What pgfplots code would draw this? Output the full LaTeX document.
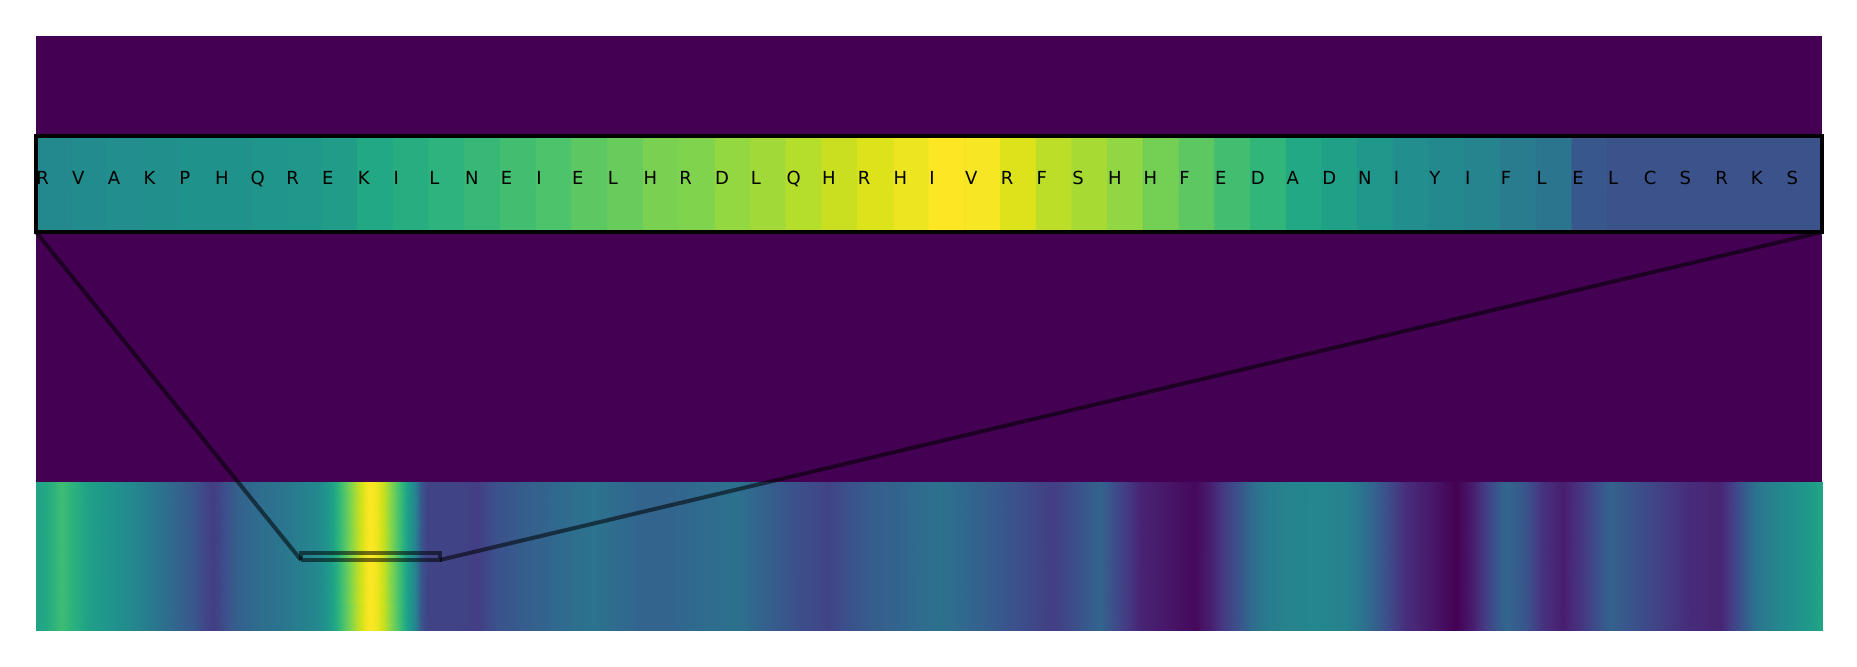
\documentclass[border=0pt]{standalone}
\usepackage{pgfplots}
\pgfplotsset{compat=1.18}
\usepackage{fontspec}
\setmainfont{DejaVu Sans}
\definecolor{vpurple}{HTML}{440154}
\begin{document}
\begin{tikzpicture}
\path[use as bounding box] (-18pt,-18.15pt) rectangle (910.5pt,315.35pt);
\begin{axis}[
  at={(0pt,0pt)}, anchor=south west,
  scale only axis, width=893pt, height=297.35pt,
  xmin=0, xmax=643, ymin=0, ymax=1,
  hide axis, clip=false,
  colormap/viridis, point meta min=0, point meta max=1,
]
\addplot[fill=vpurple, draw=none, mark=none] coordinates {(0,0) (643,0) (643,1) (0,1)};
\addplot[surf, shader=interp, point meta=explicit] table[meta=c] {
x y c
0.0 0 0.58
3.6 0 0.60
9.0 0 0.69
13.3 0 0.64
18.7 0 0.57
25.9 0 0.52
32.8 0 0.48
40.0 0 0.42
45.4 0 0.37
51.1 0 0.32
56.5 0 0.27
60.8 0 0.21
63.7 0 0.18
66.2 0 0.21
69.1 0 0.26
73.4 0 0.31
81.7 0 0.36
88.9 0 0.39
95.8 0 0.43
101.5 0 0.47
104.4 0 0.52
106.9 0 0.58
109.8 0 0.69
112.7 0 0.79
115.6 0 0.89
118.4 0 0.97
120.2 0 1.00
122.4 0 0.98
125.3 0 0.91
128.2 0 0.80
131.0 0 0.69
133.6 0 0.57
136.4 0 0.45
138.6 0 0.27
140.8 0 0.20
151.9 0 0.20
158.8 0 0.18
166.0 0 0.25
180.0 0 0.31
194.0 0 0.36
200.9 0 0.38
208.1 0 0.35
217.4 0 0.32
227.9 0 0.32
241.9 0 0.35
252.7 0 0.37
262.8 0 0.30
275.1 0 0.24
285.1 0 0.20
289.4 0 0.23
300.3 0 0.29
312.9 0 0.33
325.5 0 0.37
339.9 0 0.31
353.9 0 0.24
366.1 0 0.18
374.1 0 0.24
383.1 0 0.32
388.5 0 0.23
397.5 0 0.10
406.5 0 0.06
417.2 0 0.02
422.7 0 0.08
428.1 0 0.18
433.5 0 0.26
438.1 0 0.36
443.9 0 0.42
451.5 0 0.45
462.3 0 0.46
471.6 0 0.44
477.4 0 0.38
485.7 0 0.25
492.9 0 0.13
502.6 0 0.06
511.2 0 0.00
517.0 0 0.07
523.1 0 0.21
529.2 0 0.33
536.1 0 0.26
542.5 0 0.14
549.7 0 0.08
556.6 0 0.16
566.7 0 0.31
572.1 0 0.27
584.7 0 0.19
595.5 0 0.12
606.3 0 0.10
612.7 0 0.23
619.2 0 0.38
626.0 0 0.45
633.3 0 0.50
639.4 0 0.55
643.0 0 0.59

0.0 0.25 0.58
3.6 0.25 0.60
9.0 0.25 0.69
13.3 0.25 0.64
18.7 0.25 0.57
25.9 0.25 0.52
32.8 0.25 0.48
40.0 0.25 0.42
45.4 0.25 0.37
51.1 0.25 0.32
56.5 0.25 0.27
60.8 0.25 0.21
63.7 0.25 0.18
66.2 0.25 0.21
69.1 0.25 0.26
73.4 0.25 0.31
81.7 0.25 0.36
88.9 0.25 0.39
95.8 0.25 0.43
101.5 0.25 0.47
104.4 0.25 0.52
106.9 0.25 0.58
109.8 0.25 0.69
112.7 0.25 0.79
115.6 0.25 0.89
118.4 0.25 0.97
120.2 0.25 1.00
122.4 0.25 0.98
125.3 0.25 0.91
128.2 0.25 0.80
131.0 0.25 0.69
133.6 0.25 0.57
136.4 0.25 0.45
138.6 0.25 0.27
140.8 0.25 0.20
151.9 0.25 0.20
158.8 0.25 0.18
166.0 0.25 0.25
180.0 0.25 0.31
194.0 0.25 0.36
200.9 0.25 0.38
208.1 0.25 0.35
217.4 0.25 0.32
227.9 0.25 0.32
241.9 0.25 0.35
252.7 0.25 0.37
262.8 0.25 0.30
275.1 0.25 0.24
285.1 0.25 0.20
289.4 0.25 0.23
300.3 0.25 0.29
312.9 0.25 0.33
325.5 0.25 0.37
339.9 0.25 0.31
353.9 0.25 0.24
366.1 0.25 0.18
374.1 0.25 0.24
383.1 0.25 0.32
388.5 0.25 0.23
397.5 0.25 0.10
406.5 0.25 0.06
417.2 0.25 0.02
422.7 0.25 0.08
428.1 0.25 0.18
433.5 0.25 0.26
438.1 0.25 0.36
443.9 0.25 0.42
451.5 0.25 0.45
462.3 0.25 0.46
471.6 0.25 0.44
477.4 0.25 0.38
485.7 0.25 0.25
492.9 0.25 0.13
502.6 0.25 0.06
511.2 0.25 0.00
517.0 0.25 0.07
523.1 0.25 0.21
529.2 0.25 0.33
536.1 0.25 0.26
542.5 0.25 0.14
549.7 0.25 0.08
556.6 0.25 0.16
566.7 0.25 0.31
572.1 0.25 0.27
584.7 0.25 0.19
595.5 0.25 0.12
606.3 0.25 0.10
612.7 0.25 0.23
619.2 0.25 0.38
626.0 0.25 0.45
633.3 0.25 0.50
639.4 0.25 0.55
643.0 0.25 0.59
};
\addplot[black, opacity=0.55, line width=2pt, mark=none] coordinates {(0,0.6704) (95.4,0.1189)};
\addplot[black, opacity=0.55, line width=2pt, mark=none] coordinates {(643,0.6704) (145.4,0.1189)};
\addplot[black, opacity=0.55, line width=2pt, mark=none, line join=miter] coordinates {(95.4,0.1189) (145.4,0.1189) (145.4,0.1307) (95.4,0.1307) (95.4,0.1189)};
\end{axis}
\begin{axis}[
  at={(0pt,199.35pt)}, anchor=south west,
  scale only axis, width=893pt, height=48pt,
  xmin=0, xmax=50, ymin=0, ymax=1,
  ticks=none, axis line style={line width=2pt, black},
  axis on top,
  colormap/viridis, point meta min=0, point meta max=1,
]
\addplot[matrix plot*, mesh/cols=50, point meta=explicit] table[meta=c] {
x y c
0.5 0.25 0.47
1.5 0.25 0.48
2.5 0.25 0.49
3.5 0.25 0.50
4.5 0.25 0.51
5.5 0.25 0.51
6.5 0.25 0.52
7.5 0.25 0.53
8.5 0.25 0.55
9.5 0.25 0.60
10.5 0.25 0.62
11.5 0.25 0.65
12.5 0.25 0.67
13.5 0.25 0.70
14.5 0.25 0.72
15.5 0.25 0.75
16.5 0.25 0.77
17.5 0.25 0.80
18.5 0.25 0.81
19.5 0.25 0.84
20.5 0.25 0.86
21.5 0.25 0.89
22.5 0.25 0.92
23.5 0.25 0.95
24.5 0.25 0.975
25.5 0.25 1.00
26.5 0.25 0.99
27.5 0.25 0.95
28.5 0.25 0.90
29.5 0.25 0.87
30.5 0.25 0.835
31.5 0.25 0.79
32.5 0.25 0.75
33.5 0.25 0.70
34.5 0.25 0.655
35.5 0.25 0.60
36.5 0.25 0.57
37.5 0.25 0.53
38.5 0.25 0.49
39.5 0.25 0.47
40.5 0.25 0.45
41.5 0.25 0.41
42.5 0.25 0.39
43.5 0.25 0.27
44.5 0.25 0.25
45.5 0.25 0.25
46.5 0.25 0.25
47.5 0.25 0.25
48.5 0.25 0.25
49.5 0.25 0.25
0.5 0.75 0.47
1.5 0.75 0.48
2.5 0.75 0.49
3.5 0.75 0.50
4.5 0.75 0.51
5.5 0.75 0.51
6.5 0.75 0.52
7.5 0.75 0.53
8.5 0.75 0.55
9.5 0.75 0.60
10.5 0.75 0.62
11.5 0.75 0.65
12.5 0.75 0.67
13.5 0.75 0.70
14.5 0.75 0.72
15.5 0.75 0.75
16.5 0.75 0.77
17.5 0.75 0.80
18.5 0.75 0.81
19.5 0.75 0.84
20.5 0.75 0.86
21.5 0.75 0.89
22.5 0.75 0.92
23.5 0.75 0.95
24.5 0.75 0.975
25.5 0.75 1.00
26.5 0.75 0.99
27.5 0.75 0.95
28.5 0.75 0.90
29.5 0.75 0.87
30.5 0.75 0.835
31.5 0.75 0.79
32.5 0.75 0.75
33.5 0.75 0.70
34.5 0.75 0.655
35.5 0.75 0.60
36.5 0.75 0.57
37.5 0.75 0.53
38.5 0.75 0.49
39.5 0.75 0.47
40.5 0.75 0.45
41.5 0.75 0.41
42.5 0.75 0.39
43.5 0.75 0.27
44.5 0.75 0.25
45.5 0.75 0.25
46.5 0.75 0.25
47.5 0.75 0.25
48.5 0.75 0.25
49.5 0.75 0.25
};
\addplot[draw=none, mark=none, nodes near coords, point meta=explicit symbolic,
  nodes near coords align={anchor=base west},
  nodes near coords style={inner sep=0pt, text=black, font=\fontsize{9}{10}\selectfont}]
  table[meta=l] {
x y l
0 0.49 R
1 0.49 V
2 0.49 A
3 0.49 K
4 0.49 P
5 0.49 H
6 0.49 Q
7 0.49 R
8 0.49 E
9 0.49 K
10 0.49 I
11 0.49 L
12 0.49 N
13 0.49 E
14 0.49 I
15 0.49 E
16 0.49 L
17 0.49 H
18 0.49 R
19 0.49 D
20 0.49 L
21 0.49 Q
22 0.49 H
23 0.49 R
24 0.49 H
25 0.49 I
26 0.49 V
27 0.49 R
28 0.49 F
29 0.49 S
30 0.49 H
31 0.49 H
32 0.49 F
33 0.49 E
34 0.49 D
35 0.49 A
36 0.49 D
37 0.49 N
38 0.49 I
39 0.49 Y
40 0.49 I
41 0.49 F
42 0.49 L
43 0.49 E
44 0.49 L
45 0.49 C
46 0.49 S
47 0.49 R
48 0.49 K
49 0.49 S
};
\end{axis}
\end{tikzpicture}
\end{document}
